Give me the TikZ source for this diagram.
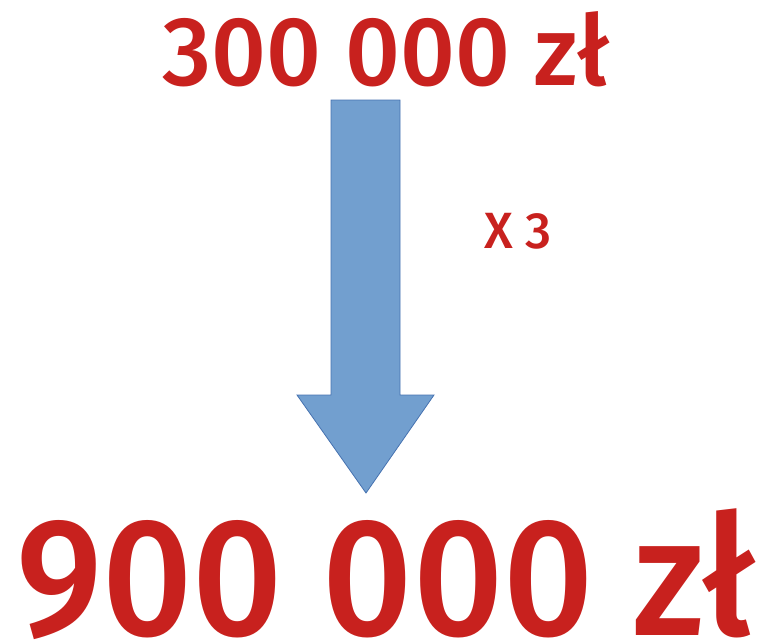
\documentclass[tikz,border=0pt]{standalone}
\usepackage{fontspec}
\setmainfont{Fira Sans}[UprightFont=* Medium, BoldFont=* SemiBold]
\definecolor{txtred}{RGB}{200,33,30}
\definecolor{arrfill}{RGB}{114,159,207}
\definecolor{arrline}{RGB}{70,114,176}
\tikzset{
  amount/.style={text=txtred, inner sep=0pt, anchor=base},
  bigarrow/.style={fill=arrfill, draw=arrline, line width=0.8pt, line join=miter}
}
\begin{document}
\begin{tikzpicture}[x=1pt,y=-1pt]
\useasboundingbox (0,0) rectangle (761,643);
\node[amount, font=\fontsize{98}{98}\selectfont] (top) at (386,85) {\scalebox{0.98}[1]{300 000 zł}};
\node[amount, font=\fontsize{168}{168}\selectfont] (bot) at (386,635) {\scalebox{0.94}[1]{900 000 zł}};
\node[amount, font=\fontsize{51}{51}\selectfont] (mult) at (518,248) {X 3};
\draw[bigarrow] (331,100) -- (400,100) -- (400,395) -- (434,395) -- (366,493) -- (297,395) -- (331,395) -- cycle;
\end{tikzpicture}
\end{document}
